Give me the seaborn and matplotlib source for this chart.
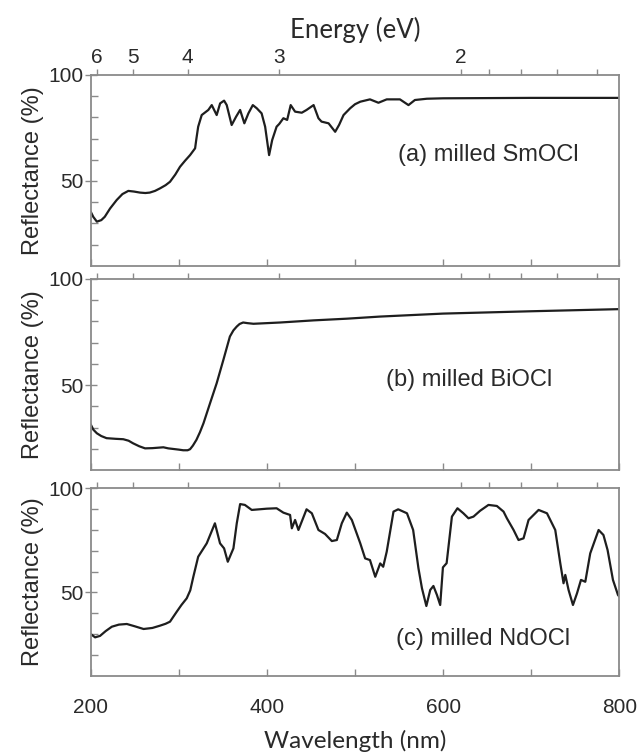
import numpy as np
import pandas as pd
import matplotlib
matplotlib.use("Agg")
import matplotlib.pyplot as plt
from matplotlib.ticker import MultipleLocator, FixedLocator
import seaborn as sns

# ---------------- data ----------------
wl_sm = [200, 203, 207, 212, 216, 222, 229.5, 236, 242.7, 249, 256, 262, 267, 273, 278.7, 285, 290,
         296, 301.4, 307, 312.8, 318.5, 320, 322, 326,
         333.5, 337.4, 343, 346.9, 351.4, 354.4, 360, 365, 369.6, 374.4, 379, 384, 388.5, 394,
         398, 402.5, 406, 411, 414, 418.7, 423, 427, 432, 439.6, 445, 453, 458.5, 462, 470,
         477.5, 482, 487, 494.5, 500, 506, 517, 526.6, 536, 551, 560.7, 568, 581.6, 600, 700, 800]
refl_sm = [35.5, 33, 30.8, 31.5, 33.1, 37, 41, 43.8, 45.3, 45, 44.5, 44.3, 44.5, 45.3, 46.5, 48, 49.6,
           53, 56.7, 59.5, 62.2, 65.4, 70, 75.6, 81.1,
           83.5, 85.8, 81.1, 86.6, 87.9, 85.8, 76.4, 80.3, 83.5, 77.2, 81.9, 85.8, 84.3, 81.9,
           75.6, 62.2, 69.3, 75.6, 76.9, 79.6, 78.8, 85.8, 82.7, 82.2, 83.5, 85.8, 79.6, 78, 77.2,
           73.2, 76.5, 81.1, 84.3, 86.2, 87.4, 88.5, 86.9, 88.5, 88.5, 85.8, 88.2, 88.8, 89.0, 89.2, 89.2]

wl_bi = [200, 203, 207, 212, 218, 228, 237, 243, 248, 255, 261.7, 270, 282.5, 288, 294, 300, 305,
         310, 312.8, 316, 320, 324, 328, 335.5, 343, 350.6, 358, 362, 365.8, 369, 373, 378, 384.7,
         415, 452.8, 490.7, 528.6, 600, 700, 800]
refl_bi = [31.5, 29, 27.3, 26, 25, 24.7, 24.5, 23.8, 22.6, 21.2, 20.2, 20.3, 20.7, 20.2, 19.9, 19.6,
           19.3, 19.3, 19.8, 21.5, 24.2, 27.8, 32, 41.5, 50.9, 61.9, 72.9, 75.8, 77.6, 78.8, 79.5,
           79.2, 78.9, 79.5, 80.5, 81.3, 82.3, 83.7, 84.8, 85.8]

wl_nd = [200, 205, 210.6, 217, 224, 232, 241, 250, 260, 270, 278.7, 285, 290, 294, 297.7, 303, 309,
         313, 316.5, 322, 331.7, 341, 346.8,
         351.4, 355.6, 362, 365.8, 369.6, 375, 382.8, 400, 411, 418.7, 426.3, 428.3, 432, 435.8,
         445, 451, 458.5, 466, 473.7, 479.4, 485, 490.7, 496.4, 506, 511.5, 517, 523, 528.6,
         532, 536, 543.7, 549, 559, 566, 572, 576, 581, 585.4, 589, 593, 596.7, 599.8, 604,
         610, 616.3, 623, 628.8, 634.5, 642, 651.5, 661, 668.6, 672.4, 680, 685.6, 691.3, 697,
         708.4, 717.9, 727.3, 733, 736.7, 738.7, 742.4, 747.4, 752, 756.5, 761.4, 767, 776.5,
         782, 786.7, 792.8, 798.5, 800]
refl_nd = [30.1, 28.5, 29.2, 31.5, 33.6, 34.6, 34.9, 33.8, 32.5, 33, 34.1, 35, 36, 38.5, 40.8, 44,
           47.2, 51, 57.5, 67.1, 73.5, 83.1, 73.5,
           71.1, 64.7, 71.1, 83.1, 92.3, 91.9, 89.5, 90.1, 90.3, 88.2, 87.1, 80.7, 84.7, 79.9,
           89.8, 87.9, 79.9, 78, 74.6, 75.1, 83.1, 88.2, 84.7, 73.5, 66.3, 65.5, 57.5, 63.9,
           62.3, 69.5, 88.7, 89.8, 87.9, 79.9, 61.6, 52, 43.5, 51.2, 53.1, 48.8, 44, 62, 64,
           86.3, 90.3, 87.9, 85.5, 86.3, 89.1, 91.9, 91.4, 88.7, 85.5, 79.9, 75.1, 75.9, 84.7,
           89.5, 87.9, 79.9, 64, 54.4, 58.4, 51.2, 44, 49.6, 56, 55.1, 68.7, 79.9,
           77.5, 70.3, 56, 48.8, 48.0]

panel_labels = ["(a) milled SmOCl", "(b) milled BiOCl", "(c) milled NdOCl"]
label_pos = [(549, 62.2), (535, 52.5), (546, 27.7)]

energy_major = [6, 5, 4, 3, 2]
energy_minor = [1.9, 1.8, 1.7, 1.6]
wl_major = [200, 400, 600, 800]
wl_minor = [300, 500, 700]

# ---------------- style ----------------
sns.set_theme(style="white")
plt.rcParams["font.family"] = ["Liberation Sans", "DejaVu Sans"]
spine_c = "#8a8a8a"
text_c = "#2a2a2a"
line_c = "#1e1e1e"

fig = plt.figure(figsize=(6.43, 7.53), dpi=100)
W, H = 643.0, 753.0
boxes = [(75, 265.7), (279, 470), (488, 676)]
left_px, right_px = 90.7, 619.3

datasets = [(wl_sm, refl_sm), (wl_bi, refl_bi), (wl_nd, refl_nd)]

for i, ((top, bot), (wl, rf)) in enumerate(zip(boxes, datasets)):
    ax = fig.add_axes([left_px / W, (H - bot) / H, (right_px - left_px) / W, (bot - top) / H])
    df = pd.DataFrame({"wl": wl, "R": rf})
    sns.lineplot(data=df, x="wl", y="R", ax=ax, color=line_c, lw=1.6, sort=False,
                 solid_joinstyle="round", solid_capstyle="round")
    ax.set_xlim(200, 800)
    ax.set_ylim(10, 100)
    ax.set_xlabel("")
    ax.set_ylabel("Reflectance (%)", fontsize=17, color=text_c, labelpad=3)
    for s in ax.spines.values():
        s.set_color(spine_c)
        s.set_linewidth(1.3)
    ax.xaxis.set_major_locator(FixedLocator(wl_major))
    ax.xaxis.set_minor_locator(FixedLocator(wl_minor))
    ax.yaxis.set_major_locator(FixedLocator([50, 100]))
    ax.yaxis.set_minor_locator(FixedLocator([20, 30, 40, 60, 70, 80, 90]))
    ax.tick_params(axis="x", which="both", direction="in", length=5, width=1, color=spine_c,
                   bottom=True, top=False, labelsize=15, labelcolor=text_c, pad=16)
    ax.tick_params(axis="y", which="major", direction="inout", length=9, width=1, color=spine_c,
                   left=True, right=False, labelsize=15, labelcolor=text_c, pad=1)
    ax.tick_params(axis="y", which="minor", direction="in", length=5, width=1, color=spine_c,
                   left=True, right=False)
    ax.set_yticklabels(["50", "100"])
    if i < 2:
        ax.tick_params(axis="x", labelbottom=False)
    else:
        ax.set_xticklabels([str(v) for v in wl_major])
    ax.text(label_pos[i][0], label_pos[i][1], panel_labels[i], fontsize=17, color=text_c,
            va="center", ha="left")

    # energy axis on top
    ax2 = ax.twiny()
    ax2.set_xlim(ax.get_xlim())
    ax2.xaxis.set_major_locator(FixedLocator([1240.0 / e for e in energy_major]))
    ax2.xaxis.set_minor_locator(FixedLocator([1240.0 / e for e in energy_minor]))
    ax2.tick_params(axis="x", which="both", direction="out", length=4, width=1, color=spine_c,
                    labelsize=15, labelcolor=text_c, pad=2)
    for s in ax2.spines.values():
        s.set_visible(False)
    if i == 0:
        ax2.set_xticklabels([str(e) for e in energy_major])
        ax2.set_xlabel("Energy (eV)", fontsize=18.5, color=text_c, family=["Lato", "DejaVu Sans"],
                       labelpad=7)
    else:
        ax2.tick_params(axis="x", labeltop=False)

    if i == 2:
        ax.set_xlabel("Wavelength (nm)", fontsize=17.5, color=text_c, family=["Lato", "DejaVu Sans"],
                      labelpad=9)

fig.savefig("out.png", dpi=100)
